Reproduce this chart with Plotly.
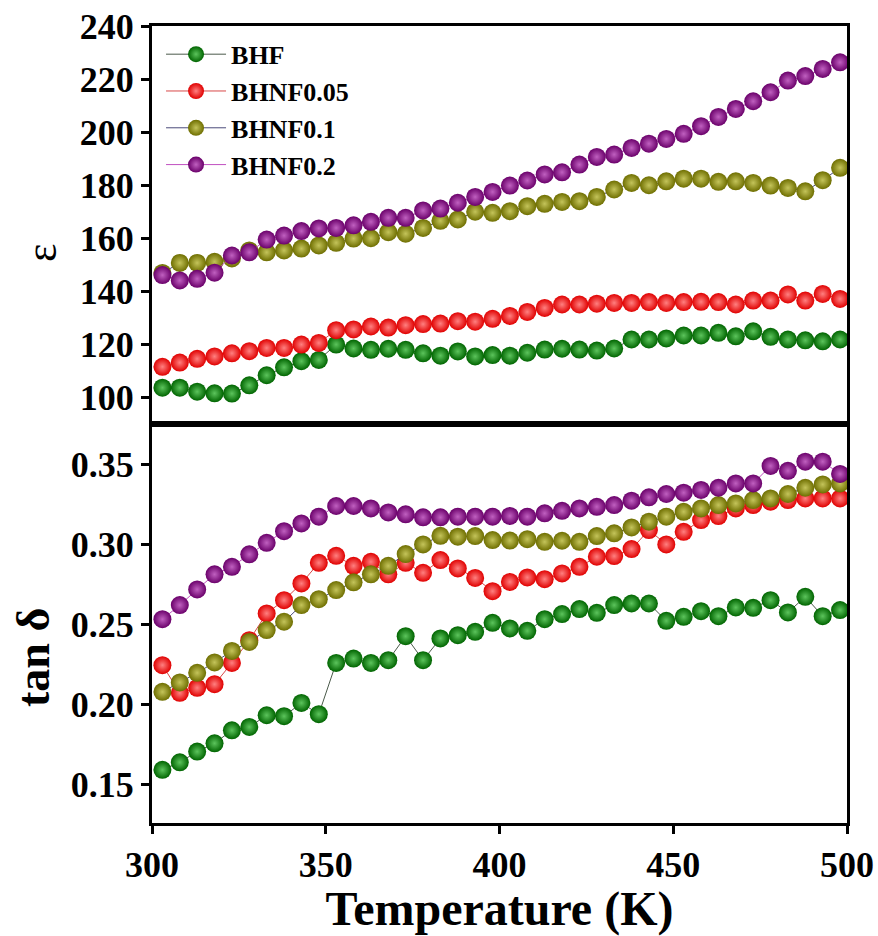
import plotly.graph_objects as go

# Temperature sweep (K)
temperature = [303 + 5 * i for i in range(40)]

# Dielectric constant
eps_bhf = [103.7, 103.7, 102.2, 101.6, 101.5, 104.6, 108.4, 111.4, 113.7, 114.2,
           120.0, 118.5, 118.0, 118.4, 118.0, 116.7, 115.8, 117.4, 115.5, 116.0,
           115.8, 116.9, 118.1, 118.4, 118.1, 117.7, 118.5, 121.9, 121.9, 122.3,
           123.4, 123.4, 124.4, 123.1, 125.0, 122.9, 121.9, 121.6, 121.2, 121.9]
eps_bhnf005 = [111.6, 113.2, 114.6, 115.5, 116.7, 117.5, 118.7, 118.7, 120.0, 120.6,
               125.4, 125.7, 126.8, 126.4, 127.3, 127.7, 127.9, 128.8, 128.6, 129.7,
               130.8, 132.3, 133.8, 135.1, 135.1, 135.4, 135.7, 135.7, 136.0, 135.7,
               136.0, 136.1, 136.0, 135.1, 136.6, 136.6, 138.9, 136.6, 139.1, 137.2]
eps_bhnf01 = [147.0, 150.8, 150.8, 151.2, 152.5, 155.5, 154.8, 155.5, 156.2, 157.4,
              158.4, 160.0, 160.1, 162.4, 161.8, 164.0, 166.7, 167.2, 170.1, 169.7,
              170.3, 172.2, 173.1, 173.8, 174.1, 175.7, 178.5, 181.0, 180.1, 181.6,
              182.6, 182.6, 181.4, 181.6, 181.0, 180.0, 179.1, 177.8, 182.0, 186.7]
eps_bhnf02 = [146.2, 144.2, 144.8, 147.1, 153.6, 154.8, 159.6, 161.1, 162.8, 163.8,
              164.0, 165.0, 166.3, 167.8, 167.8, 170.6, 171.3, 173.5, 175.7, 177.6,
              180.0, 181.9, 184.2, 185.0, 187.9, 190.8, 191.7, 194.2, 195.8, 197.6,
              199.5, 202.4, 205.9, 208.9, 211.8, 215.2, 219.6, 221.3, 224.0, 226.5]

# Dielectric loss tangent
tan_bhf = [0.1590, 0.1637, 0.1704, 0.1756, 0.1837, 0.1858, 0.1931, 0.1925, 0.2008, 0.1938,
           0.2258, 0.2285, 0.2258, 0.2275, 0.2425, 0.2275, 0.2411, 0.2431, 0.2452, 0.2508,
           0.2473, 0.2458, 0.2531, 0.2563, 0.2594, 0.2571, 0.2619, 0.2629, 0.2629, 0.2521,
           0.2546, 0.2581, 0.2550, 0.2604, 0.2602, 0.2650, 0.2573, 0.2671, 0.2550, 0.2588]
tan_bhnf005 = [0.2244, 0.2071, 0.2102, 0.2125, 0.2258, 0.2400, 0.2567, 0.2650, 0.2754, 0.2883,
               0.2927, 0.2864, 0.2889, 0.2811, 0.2883, 0.2821, 0.2900, 0.2848, 0.2789, 0.2706,
               0.2764, 0.2792, 0.2781, 0.2817, 0.2858, 0.2921, 0.2925, 0.2969, 0.3088, 0.2998,
               0.3077, 0.3150, 0.3175, 0.3223, 0.3244, 0.3265, 0.3275, 0.3285, 0.3285, 0.3285]
tan_bhnf01 = [0.2077, 0.2136, 0.2196, 0.2261, 0.2333, 0.2389, 0.2463, 0.2515, 0.2619, 0.2656,
              0.2713, 0.2761, 0.2811, 0.2864, 0.2938, 0.2998, 0.3052, 0.3046, 0.3050, 0.3025,
              0.3022, 0.3031, 0.3014, 0.3021, 0.3014, 0.3050, 0.3067, 0.3104, 0.3140, 0.3171,
              0.3202, 0.3223, 0.3244, 0.3254, 0.3275, 0.3285, 0.3313, 0.3352, 0.3373, 0.3379]
tan_bhnf02 = [0.2531, 0.2619, 0.2717, 0.2811, 0.2858, 0.2936, 0.3008, 0.3081, 0.3129, 0.3171,
              0.3238, 0.3238, 0.3223, 0.3198, 0.3186, 0.3167, 0.3167, 0.3171, 0.3171, 0.3171,
              0.3176, 0.3171, 0.3192, 0.3208, 0.3223, 0.3233, 0.3244, 0.3271, 0.3292, 0.3313,
              0.3321, 0.3338, 0.3352, 0.3379, 0.3379, 0.3488, 0.3458, 0.3515, 0.3515, 0.3438]

names = ["BHF", "BHNF0.05", "BHNF0.1", "BHNF0.2"]
eps_series = [eps_bhf, eps_bhnf005, eps_bhnf01, eps_bhnf02]
tan_series = [tan_bhf, tan_bhnf005, tan_bhnf01, tan_bhnf02]

# sphere-like markers: edge colour + lighter centre, plus thin connecting lines
ball_edge = ["#006400", "#e00000", "#6e6e00", "#6a006a"]
ball_glow = ["#5cc45c", "#ff8080", "#c4c45a", "#c060c0"]
line_cols = ["#4a5a4a", "#d84848", "#4a4a7a", "#c050c0"]

FONT = "Liberation Serif"

fig = go.Figure()
for k in range(4):
    for ys, xa, ya, show in ((eps_series[k], "x2", "y2", True),
                             (tan_series[k], "x", "y", False)):
        fig.add_trace(go.Scatter(
            x=temperature, y=ys, xaxis=xa, yaxis=ya,
            name=names[k], showlegend=show,
            mode="lines+markers",
            line=dict(color=line_cols[k], width=1),
            marker=dict(size=18, color=ball_edge[k],
                        gradient=dict(type="radial", color=ball_glow[k]),
                        line=dict(width=0)),
        ))

tickfont = dict(family=FONT, size=36, color="black", weight="bold")
split = 0.5006

common_axis = dict(showline=True, linecolor="black", linewidth=3, mirror=True,
                   showgrid=False, zeroline=False, tickcolor="black",
                   automargin=False)

fig.update_layout(
    width=878, height=936,
    margin=dict(l=152, r=31, t=26, b=113),
    paper_bgcolor="white", plot_bgcolor="white",
    font=dict(family=FONT, color="black"),
    xaxis=dict(domain=[0, 1], anchor="y", range=[300, 500], tickvals=[300, 350, 400, 450, 500],
               ticks="outside", ticklen=8, tickwidth=2.5, tickfont=tickfont,
               title=dict(text="Temperature (K)",
                          font=dict(family=FONT, size=48, color="black", weight="bold")),
               **common_axis),
    yaxis=dict(domain=[0, split], anchor="x", range=[0.1258, 0.375],
               tickvals=[0.15, 0.20, 0.25, 0.30, 0.35], tickformat=".2f",
               ticks="outside", ticklen=8, tickwidth=2.5, tickfont=tickfont,
               **common_axis),
    xaxis2=dict(domain=[0, 1], anchor="y2", matches="x", range=[300, 500],
                showticklabels=False, ticks="", **common_axis),
    yaxis2=dict(domain=[split, 1], anchor="x2", range=[90, 240.2],
                tickvals=[100, 120, 140, 160, 180, 200, 220, 240],
                ticks="outside", ticklen=8, tickwidth=2.5, tickfont=tickfont,
                **common_axis),
    legend=dict(x=0.013, y=0.994, xanchor="left", yanchor="top",
                bgcolor="rgba(0,0,0,0)", borderwidth=0,
                font=dict(family=FONT, size=26, color="black", weight="bold"),
                itemwidth=60, tracegroupgap=0),
    annotations=[
        dict(text="ε", xref="paper", yref="paper", x=-0.16, y=0.715,
             showarrow=False, textangle=-90, xanchor="center", yanchor="middle",
             font=dict(family=FONT, size=44, color="black")),
        dict(text="tan δ", xref="paper", yref="paper", x=-0.1698, y=0.2083,
             showarrow=False, textangle=-90, xanchor="center", yanchor="middle",
             font=dict(family=FONT, size=46, color="black", weight="bold")),
    ],
)

fig.write_html("out.html")
